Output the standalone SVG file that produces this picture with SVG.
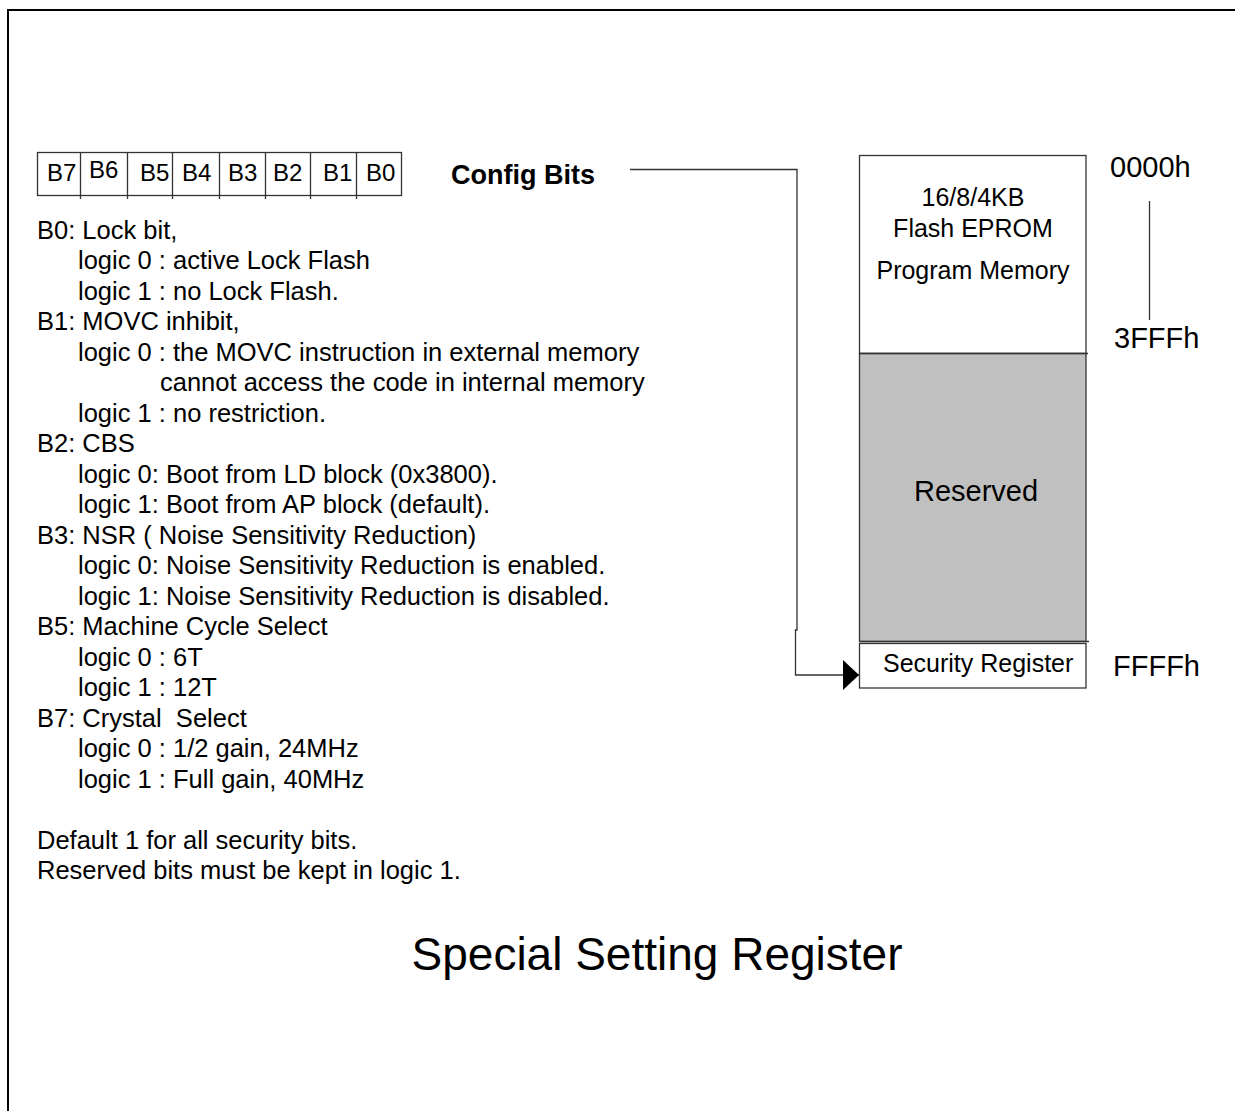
<svg xmlns="http://www.w3.org/2000/svg" width="1235" height="1111" viewBox="0 0 1235 1111">
<style>
text{font-family:"Liberation Sans",Arial,sans-serif;fill:#000;white-space:pre}
.body{font-size:25.5px}
.bit{font-size:24px}
.addr{font-size:29px}
.mem{font-size:25px;text-anchor:middle}
.ln{stroke:#333;stroke-width:1.3;fill:none}
.box{stroke:#333;stroke-width:1.3;fill:#fff}
.gray{stroke:#333;stroke-width:1.3;fill:#c0c0c0}
.frame{stroke:#000;stroke-width:2;fill:none}
</style>
<defs>
<marker id="arr" viewBox="0 0 16 30" refX="16" refY="15" markerWidth="16" markerHeight="30" markerUnits="userSpaceOnUse" orient="auto">
<path d="M0,0 L16,15 L0,30 Z" fill="#000"/>
</marker>
</defs>
<rect width="1235" height="1111" fill="#fff"/>
<path class="frame" d="M8,1111 V10 H1235"/>

<g id="config-bits-register">
<rect class="box" x="37.5" y="152.5" width="364" height="43"/>
<path class="ln" d="M80.5,153 V199 M127.5,153 V199 M172.5,153 V199 M219.5,153 V199 M265.5,153 V199 M310.5,153 V199 M356.5,153 V199"/>
<text class="bit" x="47" y="181">B7</text>
<text class="bit" x="89" y="178">B6</text>
<text class="bit" x="140" y="181">B5</text>
<text class="bit" x="182" y="181">B4</text>
<text class="bit" x="228" y="181">B3</text>
<text class="bit" x="273" y="181">B2</text>
<text class="bit" x="323" y="181">B1</text>
<text class="bit" x="366" y="181">B0</text>
</g>

<g id="config-bits-label">
<text x="451" y="184" style="font-size:27px;font-weight:bold">Config Bits</text>
</g>

<g id="description">
<text class="body" x="37" y="238.5">B0: Lock bit,</text>
<text class="body" x="78" y="269">logic 0 : active Lock Flash</text>
<text class="body" x="78" y="299.5">logic 1 : no Lock Flash.</text>
<text class="body" x="37" y="330">B1: MOVC inhibit,</text>
<text class="body" x="78" y="360.5">logic 0 : the MOVC instruction in external memory</text>
<text class="body" x="160" y="391">cannot access the code in internal memory</text>
<text class="body" x="78" y="421.5">logic 1 : no restriction.</text>
<text class="body" x="37" y="452">B2: CBS</text>
<text class="body" x="78" y="482.5">logic 0: Boot from LD block (0x3800).</text>
<text class="body" x="78" y="513">logic 1: Boot from AP block (default).</text>
<text class="body" x="37" y="543.5">B3: NSR ( Noise Sensitivity Reduction)</text>
<text class="body" x="78" y="574">logic 0: Noise Sensitivity Reduction is enabled.</text>
<text class="body" x="78" y="604.5">logic 1: Noise Sensitivity Reduction is disabled.</text>
<text class="body" x="37" y="635">B5: Machine Cycle Select</text>
<text class="body" x="78" y="665.5">logic 0 : 6T</text>
<text class="body" x="78" y="696">logic 1 : 12T</text>
<text class="body" x="37" y="726.5">B7: Crystal  Select</text>
<text class="body" x="78" y="757">logic 0 : 1/2 gain, 24MHz</text>
<text class="body" x="78" y="787.5">logic 1 : Full gain, 40MHz</text>
<text class="body" x="37" y="848.5">Default 1 for all security bits.</text>
<text class="body" x="37" y="879">Reserved bits must be kept in logic 1.</text>
</g>

<g id="program-memory">
<rect class="box" x="859.5" y="155.5" width="226.5" height="198"/>
<text class="mem" x="973" y="206">16/8/4KB</text>
<text class="mem" x="973" y="237">Flash EPROM</text>
<text class="mem" x="973" y="279">Program Memory</text>
</g>

<g id="reserved">
<rect class="gray" x="859.5" y="353.5" width="226.5" height="288"/>
<path class="ln" d="M859.5,353.5 H1088"/>
<text x="976" y="501" style="font-size:29px;text-anchor:middle">Reserved</text>
</g>

<g id="security-register">
<rect class="box" x="859.5" y="643.5" width="226.5" height="44.5"/>
<path class="ln" d="M859.5,641.5 H1089"/>
<text x="883" y="672" style="font-size:25px">Security Register</text>
</g>

<g id="addresses">
<text class="addr" x="1110" y="177">0000h</text>
<path class="ln" d="M1149.5,201 V320"/>
<text class="addr" x="1114" y="348">3FFFh</text>
<text class="addr" x="1113" y="676">FFFFh</text>
</g>

<g id="connectors">
<path class="ln" d="M630,169.5 H797 V630 H795.5 V675 H859" marker-end="url(#arr)"/>
</g>

<g id="title">
<text x="657" y="970" style="font-size:46px;text-anchor:middle">Special Setting Register</text>
</g>
</svg>
